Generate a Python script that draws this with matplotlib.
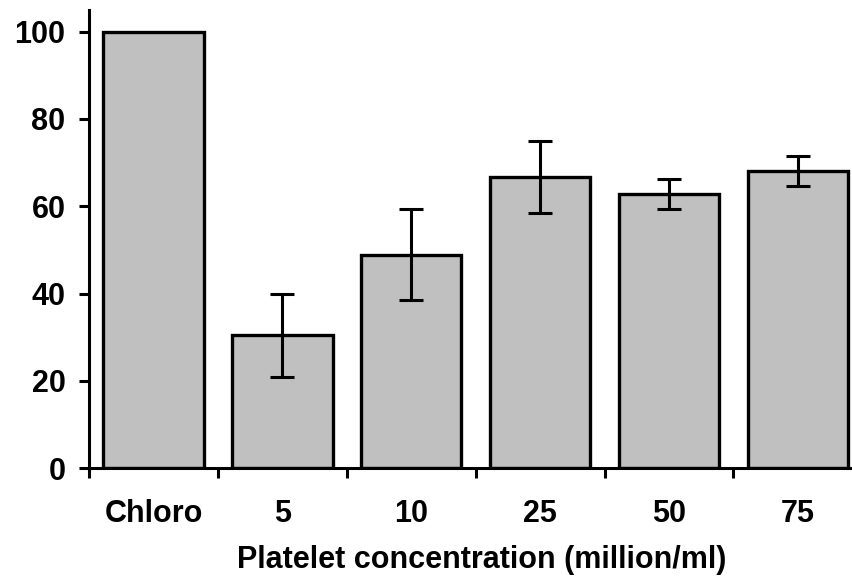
import matplotlib
matplotlib.use("Agg")
import matplotlib.pyplot as plt
import numpy as np

plt.rcParams['font.family'] = ['Liberation Sans', 'DejaVu Sans']
plt.rcParams['font.weight'] = 'bold'

# percent relative to chloroquine control
groups = ['Chloro', '5', '10', '25', '50', '75']
means = [100, 30.4, 48.9, 66.7, 62.8, 68.1]
errors = [0, 9.5, 10.5, 8.2, 3.4, 3.4]

fig = plt.figure(figsize=(8.52, 5.8), dpi=100)
ax = fig.add_axes([0.1045, 0.193, 0.8955, 0.790])

x = np.arange(len(groups))
ax.bar(x, means, width=0.78, color='#c0c0c0', edgecolor='black', linewidth=2.4, zorder=2)
err_x = [i for i, e in zip(x, errors) if e > 0]
err_y = [m for m, e in zip(means, errors) if e > 0]
err_e = [e for e in errors if e > 0]
ax.errorbar(err_x, err_y, yerr=err_e, fmt='none', ecolor='black',
            elinewidth=2.2, capsize=8.5, capthick=2.2, zorder=3)

ax.set_xlim(-0.5, 5.42)
ax.set_ylim(0, 105)
ax.set_yticks(range(0, 101, 20))
ax.set_xticks(x)
ax.set_xticklabels(groups)
ax.set_xticks(np.arange(-0.5, 5.0, 1.0), minor=True)

ax.tick_params(axis='x', which='major', length=0, pad=22, labelsize=22)
ax.tick_params(axis='x', which='minor', direction='out', length=7, width=2.2)
ax.tick_params(axis='y', direction='out', length=7, width=2.2, pad=10, labelsize=22)

for side in ['top', 'right']:
    ax.spines[side].set_visible(False)
for side in ['left', 'bottom']:
    ax.spines[side].set_linewidth(2.2)

ax.set_xlabel('Platelet concentration (million/ml)', fontsize=22, fontweight='bold')
ax.xaxis.set_label_coords(0.514, -0.168)
ax.xaxis.label.set_va('top')

fig.savefig('out.png', dpi=100)
